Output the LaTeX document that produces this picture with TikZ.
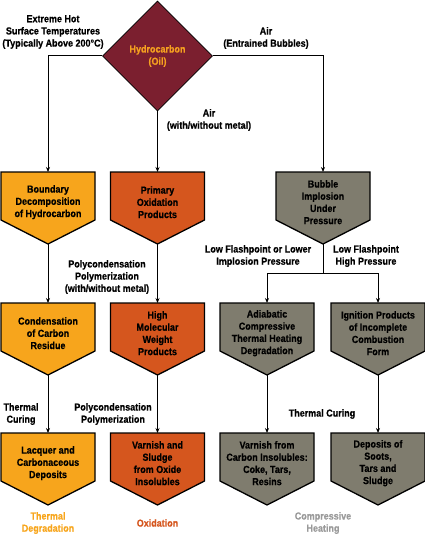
\documentclass[tikz,border=0pt]{standalone}
\usepackage{fontspec}
\setmainfont{Liberation Sans Bold}[FakeStretch=0.88, FakeBold=0.6]
\usetikzlibrary{positioning, arrows.meta, calc, shapes.geometric}

\definecolor{degrfill}{HTML}{F7A51C}
\definecolor{oxifill}{HTML}{D5561E}
\definecolor{compfill}{HTML}{7F7C6E}
\definecolor{oilfill}{HTML}{7B1F2F}
\definecolor{oiltext}{HTML}{F5A020}
\definecolor{complbl}{HTML}{9A9A9A}

% pentagon box: name, x, top y, fill, text
\newcommand{\pentbox}[5]{%
  \fill[#4, draw=black, line width=1.3pt, line join=miter]
    (#2-47,#3) -- (#2+47,#3) -- (#2+47,#3+48) -- (#2,#3+72)
    -- (#2-47,#3+48) -- cycle;
  \node[anchor=north, minimum height=60pt, inner sep=0pt] (#1) at (#2,#3) {#5};
  \coordinate (#1-tip) at (#2,#3+72);
}

\begin{document}
\begin{tikzpicture}[x=1pt, y=-1pt,
  every node/.style={font=\fontsize{10.2}{12.2}\selectfont, align=center},
  arr/.style={-{Stealth[length=5pt, width=4pt]}, line width=1pt},
  lnk/.style={line width=1pt}]
  \useasboundingbox (0,0) rectangle (425,535);
  \def\xa{48}
  \def\xb{157.5}
  \def\xc{323}
  \def\xd{267}
  \def\xe{378}

  % source
  \node[diamond, fill=oilfill, draw=black, line width=0.6pt, inner sep=0pt,
        minimum width=110pt, minimum height=110pt, text=oiltext]
    (oil) at (\xb,56) {Hydrocarbon\\(Oil)};

  % first row
  \pentbox{bnd}{\xa}{172}{degrfill}{Boundary\\Decomposition\\of Hydrocarbon}
  \pentbox{prim}{\xb}{172}{oxifill}{Primary\\Oxidation\\Products}
  \pentbox{bub}{\xc}{172}{compfill}{Bubble\\Implosion\\Under\\Pressure}

  % second row
  \pentbox{cond}{\xa}{303}{degrfill}{Condensation\\of Carbon\\Residue}
  \pentbox{hmw}{\xb}{303}{oxifill}{High\\Molecular\\Weight\\Products}
  \pentbox{adia}{\xd}{303}{compfill}{Adiabatic\\Compressive\\Thermal Heating\\Degradation}
  \pentbox{ign}{\xe}{303}{compfill}{Ignition Products\\of Incomplete\\Combustion\\Form}

  % third row
  \pentbox{lacq}{\xa}{433}{degrfill}{Lacquer and\\Carbonaceous\\Deposits}
  \pentbox{varn}{\xb}{433}{oxifill}{Varnish and\\Sludge\\from Oxide\\Insolubles}
  \pentbox{vcarb}{\xd}{433}{compfill}{Varnish from\\Carbon Insolubles:\\Coke, Tars,\\Resins}
  \pentbox{soot}{\xe}{433}{compfill}{Deposits of\\Soots,\\Tars and\\Sludge}

  % connectors
  \draw[arr] (oil.west) -| (bnd.north);
  \draw[arr] (oil.south) -- (prim.north);
  \draw[arr] (oil.east) -| (bub.north);
  \draw[arr] (bnd-tip) -- (cond.north);
  \draw[arr] (prim-tip) -- (hmw.north);
  \coordinate (fork) at (\xc,273);
  \draw[lnk] (bub-tip) -- (fork);
  \draw[arr] (fork) -| (adia.north);
  \draw[arr] (fork) -| (ign.north);
  \draw[arr] (cond-tip) -- (lacq.north);
  \draw[arr] (hmw-tip) -- (varn.north);
  \draw[arr] (adia-tip) -- (vcarb.north);
  \draw[arr] (ign-tip) -- (soot.north);

  % labels
  \node (hot) at (53,32) {Extreme Hot\\Surface Temperatures\\(Typically Above 200°C)};
  \node (airb) at (266,38) {Air\\(Entrained Bubbles)};
  \node (airm) at (209,120) {Air\\(with/without metal)};
  \node (poly1) at (107,277) {Polycondensation\\Polymerization\\(with/without metal)};
  \node (lowimp) at (258,256) {Low Flashpoint or Lower\\Implosion Pressure};
  \node (lowhigh) at (366,256) {Low Flashpoint\\High Pressure};
  \node (cure1) at (21,414) {Thermal\\Curing};
  \node (poly2) at (113,414) {Polycondensation\\Polymerization};
  \node (cure2) at (322,414) {Thermal Curing};

  % column titles
  \node[text=degrfill] (tdeg) at (\xa,523) {Thermal\\Degradation};
  \node[text=oxifill] (toxi) at (\xb,523) {Oxidation};
  \node[text=complbl] (tcomp) at (\xc,523) {Compressive\\Heating};
\end{tikzpicture}
\end{document}
